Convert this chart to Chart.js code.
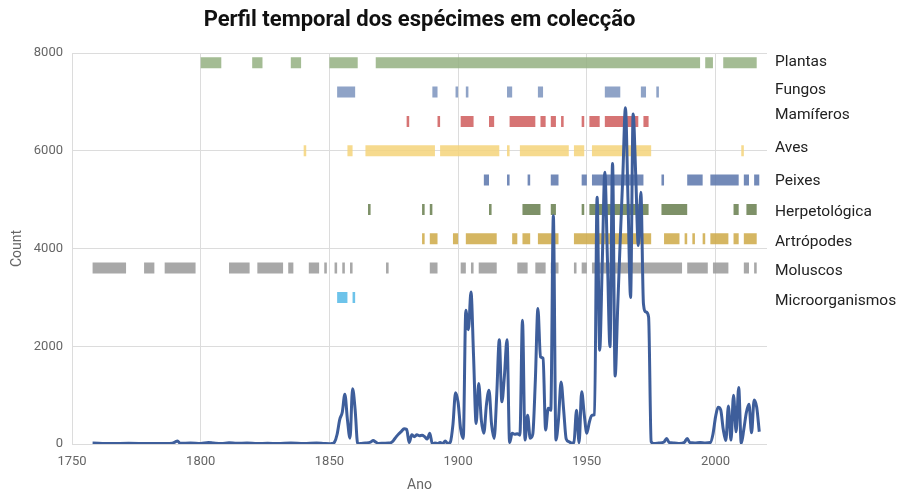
<!DOCTYPE html>
<html><head><meta charset="utf-8">
<script src="https://cdn.jsdelivr.net/npm/chart.js@4/dist/chart.umd.min.js"></script>
<style>html,body{margin:0;padding:0;background:#fff}#wrap{width:899px;height:494px;position:relative}</style>
</head><body><div id="wrap"><canvas id="c"></canvas></div>
<script>
// ---- data ----
const countYears = [1758,1765,1772,1780,1786,1789,1790,1791,1792,1796,1800,1803,1805,1808,1811,1814,1818,1822,1826,1830,1835,1840,1845,1848,1850,1851,1852,1853,1854,1855,1856,1857,1858,1859,1860,1861,1862,1864,1866,1867,1868,1869,1871,1873,1874,1875,1876,1877,1878,1879,1880,1881,1882,1883,1884,1885,1886,1887,1888,1889,1890,1891,1892,1893,1894,1895,1896,1897,1898,1899,1900,1901,1902,1903,1904,1905,1906,1907,1908,1909,1910,1911,1912,1913,1914,1915,1916,1917,1918,1919,1920,1921,1922,1923,1924,1925,1926,1927,1928,1929,1930,1931,1932,1933,1934,1935,1936,1937,1938,1939,1940,1941,1942,1943,1944,1945,1946,1947,1948,1949,1950,1951,1952,1953,1954,1955,1956,1957,1958,1959,1960,1961,1962,1963,1964,1965,1966,1967,1968,1969,1970,1971,1972,1973,1974,1975,1976,1978,1980,1981,1982,1984,1986,1988,1989,1990,1992,1994,1996,1998,1999,2000,2001,2002,2003,2004,2005,2006,2007,2008,2009,2010,2011,2012,2013,2014,2015,2016,2017];
const countValues = [20,10,15,10,10,15,40,60,15,20,10,30,20,10,25,15,20,10,15,10,20,10,20,10,5,10,40,200,500,650,1020,500,120,1130,700,0,10,20,40,70,40,10,15,20,30,80,150,210,260,310,300,30,190,150,190,170,180,150,100,220,0,20,10,30,10,60,10,40,400,1050,850,300,115,2735,2340,3110,1800,420,1240,500,220,800,1100,400,115,1000,2135,865,1400,2135,30,220,200,210,180,2530,80,590,120,200,1300,2770,1780,1750,285,730,690,4670,80,500,1270,700,100,50,20,30,690,25,1070,600,220,450,590,600,5050,1920,3700,5560,3800,1990,5740,1390,2800,4200,5500,6880,5000,3000,6750,5500,4060,5150,2870,2700,2600,50,10,20,40,115,30,20,10,40,115,30,20,30,20,30,200,550,750,700,300,70,775,80,1000,250,1155,15,300,650,815,230,900,750,250];

const categories = ['Plantas','Fungos','Mamíferos','Aves','Peixes','Herpetológica','Artrópodes','Moluscos','Microorganismos'];
const categoryLevels = [7800,7200,6600,6000,5400,4800,4200,3600,3000];
const labelLevels = [7816,7250,6720,6046,5373,4748,4122,3536,2924];

const plantasSpans = [[1800,1808],[1820,1824],[1835,1839],[1850,1861],[1868,1994],[1996,1999],[2003,2016]];
const fungosSpans = [[1853,1860],[1890,1892],[1899,1900],[1903,1904],[1919,1921],[1931,1933],[1957,1963],[1971,1973],[1977,1978]];
const mamiferosSpans = [[1880,1881],[1892,1893],[1901,1906],[1912,1914],[1920,1930],[1932,1934],[1936,1938],[1940,1941],[1948,1949],[1951,1955],[1957,1970],[1972,1974]];
const avesSpans = [[1840,1841],[1857,1859],[1864,1891],[1893,1916],[1919,1920],[1924,1943],[1945,1949],[1952,1975],[2010,2011]];
const peixesSpans = [[1910,1912],[1919,1920],[1927,1928],[1936,1939],[1948,1950],[1952,1972],[1979,1980],[1989,1995],[1998,2009],[2011,2013],[2015,2017]];
const herpetoSpans = [[1865,1866],[1886,1887],[1889,1890],[1912,1913],[1925,1932],[1936,1938],[1948,1949],[1951,1974],[1979,1989],[2007,2009],[2012,2016]];
const artropodesSpans = [[1886,1887],[1889,1892],[1898,1900],[1903,1915],[1921,1923],[1925,1928],[1931,1939],[1945,1975],[1980,1986],[1988,1989],[1991,1992],[1995,1996],[1998,2005],[2007,2009],[2011,2016]];
const moluscosSpans = [[1758,1771],[1778,1782],[1786,1798],[1811,1819],[1822,1832],[1834,1836],[1842,1846],[1848,1849],[1852,1853],[1855,1856],[1858,1859],[1872,1873],[1889,1892],[1901,1903],[1905,1906],[1908,1915],[1923,1927],[1930,1934],[1936,1939],[1945,1946],[1948,1950],[1952,1987],[1989,1997],[1999,2005],[2011,2013],[2015,2016]];
const microSpans = [[1853,1857],[1859,1860]];
const categorySpans = [plantasSpans,fungosSpans,mamiferosSpans,avesSpans,peixesSpans,herpetoSpans,artropodesSpans,moluscosSpans,microSpans];

const xTicks = [1750,1800,1850,1900,1950,2000];
const yTicks = [0,2000,4000,6000,8000];

// ---- styles ----
const barColors = ['rgba(148,176,129,0.85)','rgba(123,147,189,0.85)','rgba(207,92,92,0.85)','rgba(245,211,122,0.85)','rgba(91,117,171,0.85)','rgba(103,126,77,0.85)','rgba(206,169,70,0.85)','rgba(153,153,153,0.85)','rgba(84,184,230,0.85)'];

function spanPoints(spans, level) {
  const pts = [];
  spans.forEach((s, i) => {
    if (i > 0) pts.push({x: (spans[i-1][1] + s[0]) / 2, y: null});
    pts.push({x: s[0], y: level}, {x: s[1], y: level});
  });
  return pts;
}

const datasets = [{
  label: 'Count',
  data: countYears.map((y, i) => ({x: y, y: countValues[i]})),
  borderColor: 'rgb(62,94,155)',
  borderWidth: 3,
  pointRadius: 0,
  cubicInterpolationMode: 'monotone',
  fill: false
}];
categories.forEach((name, i) => {
  datasets.push({
    label: name,
    data: spanPoints(categorySpans[i], categoryLevels[i]),
    borderColor: barColors[i],
    borderWidth: 11,
    borderCapStyle: 'butt',
    pointRadius: 0,
    spanGaps: false,
    fill: false
  });
});

const FONT = 'Roboto, "DejaVu Sans", sans-serif';
new Chart(document.getElementById('c'), {
  type: 'line',
  data: {datasets},
  options: {
    responsive: true,
    maintainAspectRatio: false,
    animation: false,
    layout: {padding: 0},
    plugins: {
      legend: {display: false},
      tooltip: {enabled: false},
      title: {
        display: true,
        text: 'Perfil temporal dos espécimes em colecção',
        fullSize: false,
        color: '#111',
        font: {family: FONT, size: 22, weight: 'bold'},
        padding: {top: 7, bottom: 19.6}
      }
    },
    scales: {
      x: {
        type: 'linear', min: 1750, max: 2020,
        afterBuildTicks: a => { a.ticks = xTicks.map(v => ({value: v})); },
        afterFit: a => { a.height = 50; },
        grid: {color: '#dcdcdc', drawTicks: false},
        border: {display: false},
        ticks: {color: '#666', font: {family: FONT, size: 13}, padding: 10, callback: v => String(v), maxRotation: 0},
        title: {display: true, text: 'Ano', color: '#666', font: {family: FONT, size: 14}, padding: {top: 0, bottom: 0}}
      },
      y: {
        type: 'linear', position: 'left', min: 0, max: 8000,
        afterBuildTicks: a => { a.ticks = yTicks.map(v => ({value: v})); },
        afterFit: a => { a.width = 72; },
        grid: {color: '#dcdcdc', drawTicks: false},
        border: {display: true, color: '#dcdcdc'},
        ticks: {color: '#666', font: {family: FONT, size: 13}, padding: 9, callback: v => String(v)},
        title: {display: true, text: 'Count', color: '#666', font: {family: FONT, size: 14}, padding: {top: 9, bottom: 4}}
      },
      yLabels: {
        type: 'linear', position: 'right', min: 0, max: 8000,
        afterBuildTicks: a => { a.ticks = labelLevels.map(v => ({value: v})); },
        afterFit: a => { a.width = 132; },
        grid: {display: false, drawTicks: false},
        border: {display: false},
        ticks: {autoSkip: false, color: '#222', font: {family: FONT, size: 15.5}, padding: 8,
          callback: (v, i) => categories[i]}
      }
    }
  }
});
</script>
</body></html>
